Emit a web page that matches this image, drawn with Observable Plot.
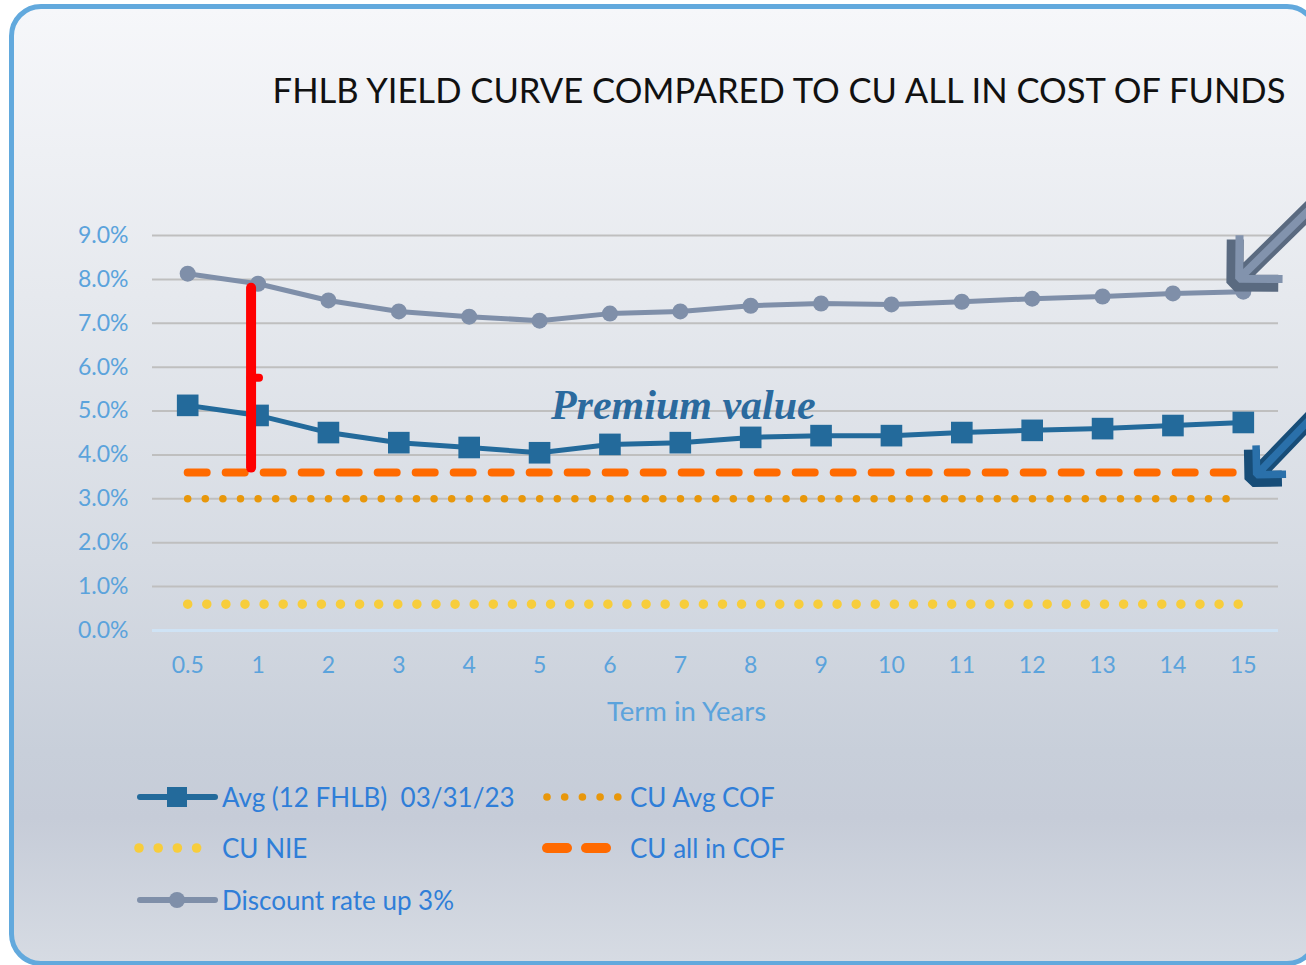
<!DOCTYPE html>
<html>
<head>
<meta charset="utf-8">
<script src="https://cdn.jsdelivr.net/npm/d3@7"></script>
<script src="https://cdn.jsdelivr.net/npm/@observablehq/plot@0.6"></script>
<style>
  html, body { margin: 0; padding: 0; background: #ffffff; }
  #page { position: relative; width: 1306px; height: 965px; overflow: hidden; font-family: Lato, "Open Sans", sans-serif; }
  #card { position: absolute; left: 9px; top: 4px; width: 1300px; height: 952px; border: 5px solid #62a9dd; border-radius: 32px;
          background: linear-gradient(to bottom, #f6f7fa 0%, #e6e9ee 30%, #d6dbe3 58%, #c8cfda 78%, #c6ccd8 85%, #d6dbe3 100%); }
  #title { position: absolute; left: 0; width: 1558px; top: 69px; text-align: center; font-size: 34.6px; color: #111; white-space: nowrap; }
  #chart { position: absolute; left: 0; top: 130px; }
  .leg { position: absolute; display: flex; align-items: center; font-size: 26px; color: #2f7ed8; white-space: pre; }
  .leg svg { display: block; }
</style>
</head>
<body>
<div id="page">
  <div id="card"></div>
  <div id="title">FHLB YIELD CURVE COMPARED TO CU ALL IN COST OF FUNDS</div>
  <div id="chart"></div>
  <div id="legend"></div>
</div>
<script>
// ---- data ----
const terms = ["0.5","1","2","3","4","5","6","7","8","9","10","11","12","13","14","15"];
const fhlbAvg = [5.13, 4.90, 4.51, 4.28, 4.17, 4.05, 4.24, 4.28, 4.40, 4.44, 4.44, 4.51, 4.56, 4.60, 4.67, 4.74];
const discountUp3 = [8.13, 7.90, 7.52, 7.27, 7.15, 7.06, 7.22, 7.27, 7.40, 7.45, 7.43, 7.49, 7.56, 7.61, 7.68, 7.72];
const cuAllInCof = 3.6;
const cuAvgCof = 3.0;
const cuNie = 0.6;
const yTicks = [0,1,2,3,4,5,6,7,8,9];
const seriesNames = ["Avg (12 FHLB)  03/31/23", "CU Avg COF", "CU NIE", "CU all in COF", "Discount rate up 3%"];

const C = {
  fhlb: "#236a9b", disc: "#7f8fa9", allIn: "#ff6a00", avgCof: "#e8970b", nie: "#f7cd3c",
  grid: "#bfbfbf", zero: "#cfe3f5", axis: "#5ba3dc", red: "#ff0000", premium: "#2b6a9e"
};

const idx = terms.map((_, i) => i);
const fhlbData = idx.map(i => ({x: i, y: fhlbAvg[i]}));
const discData = idx.map(i => ({x: i, y: discountUp3[i]}));
const flat = v => idx.map(i => ({x: i, y: v}));

const last = terms.length - 1;
const grayArrow = [{x1: 16.2, y1: 10.0, x2: last - 0.12, y2: discountUp3[last] + 0.2}];
const blueArrow = [{x1: 16.0, y1: 4.9, x2: last + 0.13, y2: cuAllInCof - 0.15}];

const chart = Plot.plot({
  width: 1306,
  height: 610,
  marginLeft: 152,
  marginRight: 28,
  marginTop: 105,
  marginBottom: 110,
  style: {fontFamily: "Lato, 'Open Sans', sans-serif", fontSize: "23px", color: C.axis, background: "transparent", overflow: "visible"},
  x: {domain: [-0.5, last + 0.5], axis: null},
  y: {domain: [0, 9], axis: null},
  marks: [
    Plot.ruleY(yTicks.filter(d => d > 0), {stroke: C.grid, strokeWidth: 2}),
    Plot.ruleY([0], {stroke: C.zero, strokeWidth: 3}),
    Plot.axisY({ticks: yTicks, tickFormat: d => d.toFixed(1) + "%", tickSize: 0, tickPadding: 24, label: null, fill: C.axis, fontSize: 23}),
    Plot.axisX({ticks: idx, tickFormat: i => terms[i], tickSize: 0, tickPadding: 26, label: null, fill: C.axis, fontSize: 23}),
    Plot.text(["Term in Years"], {frameAnchor: "bottom", dx: -29, dy: 90, fontSize: 27.5, fill: C.axis}),
    // flat series
    Plot.line(flat(cuNie), {x: "x", y: "y", stroke: C.nie, strokeWidth: 9.5, strokeDasharray: "0,19.1", strokeLinecap: "round"}),
    Plot.line(flat(cuAvgCof), {x: "x", y: "y", stroke: C.avgCof, strokeWidth: 7.5, strokeDasharray: "0,17.6", strokeLinecap: "round"}),
    Plot.line(flat(cuAllInCof), {x: "x", y: "y", stroke: C.allIn, strokeWidth: 8, strokeDasharray: "19,19", strokeLinecap: "round"}),
    // FHLB curve
    Plot.line(fhlbData, {x: "x", y: "y", stroke: C.fhlb, strokeWidth: 5}),
    Plot.dot(fhlbData, {x: "x", y: "y", symbol: "square", r: 12.2, fill: C.fhlb}),
    // Discount curve
    Plot.line(discData, {x: "x", y: "y", stroke: C.disc, strokeWidth: 5}),
    Plot.dot(discData, {x: "x", y: "y", r: 8, fill: C.disc}),
    // premium bracket (from discount curve at 1y down to all-in COF)
    Plot.ruleX([1], {y1: discountUp3[1] - 0.1, y2: cuAllInCof + 0.1, dx: -7, stroke: C.red, strokeWidth: 10, strokeLinecap: "round"}),
    Plot.ruleY([(discountUp3[1] + cuAllInCof) / 2 + 0.01], {x1: 1, x2: 1.12, dx: -7, stroke: C.red, strokeWidth: 8, strokeLinecap: "round"}),
    Plot.text(["Premium value"], {x: 7, y: 5.13, dx: 3, fontFamily: "'Liberation Serif', 'DejaVu Serif', serif", fontStyle: "italic", fontWeight: "bold", fontSize: 42, fill: C.premium}),
    // pointer arrows at the right edge
    Plot.arrow(grayArrow, {x1: "x1", y1: "y1", x2: "x2", y2: "y2", stroke: "#5a6a80", strokeWidth: 17, headLength: 9.5, headAngle: 90, strokeLinecap: "butt", strokeLinejoin: "miter"}),
    Plot.arrow(grayArrow, {x1: "x1", y1: "y1", x2: "x2", y2: "y2", stroke: "#8293ad", strokeWidth: 8, headLength: 10.5, headAngle: 90, insetEnd: 6, strokeLinecap: "butt", strokeLinejoin: "miter"}),
    Plot.arrow(blueArrow, {x1: "x1", y1: "y1", x2: "x2", y2: "y2", stroke: "#174d78", strokeWidth: 16, headLength: 9.5, headAngle: 90, strokeLinecap: "butt", strokeLinejoin: "miter"}),
    Plot.arrow(blueArrow, {x1: "x1", y1: "y1", x2: "x2", y2: "y2", stroke: "#2a70aa", strokeWidth: 7.5, headLength: 10.5, headAngle: 90, insetEnd: 6, strokeLinecap: "butt", strokeLinejoin: "miter"})
  ]
});
document.getElementById("chart").appendChild(chart);

// ---- legend (HTML, below the svg) ----
const legend = document.getElementById("legend");
function swatch(kind) {
  const ns = "http://www.w3.org/2000/svg";
  const s = document.createElementNS(ns, "svg");
  s.setAttribute("width", 86); s.setAttribute("height", 24);
  let html = "";
  if (kind === 0) html = `<line x1="4" y1="12" x2="79" y2="12" stroke="${C.fhlb}" stroke-width="6" stroke-linecap="round"/><rect x="31" y="2" width="20" height="20" fill="${C.fhlb}"/>`;
  if (kind === 4) html = `<line x1="4" y1="12" x2="79" y2="12" stroke="${C.disc}" stroke-width="6" stroke-linecap="round"/><circle cx="41" cy="12" r="8" fill="${C.disc}"/>`;
  if (kind === 1) html = [0,1,2,3,4].map(k => `<circle cx="${6 + k * 17.7}" cy="12" r="3.8" fill="${C.avgCof}"/>`).join("");
  if (kind === 2) html = [0,1,2,3].map(k => `<circle cx="${5 + k * 19.2}" cy="12" r="4.8" fill="${C.nie}"/>`).join("");
  if (kind === 3) html = `<line x1="6" y1="12" x2="26" y2="12" stroke="${C.allIn}" stroke-width="10" stroke-linecap="round"/><line x1="45" y1="12" x2="65" y2="12" stroke="${C.allIn}" stroke-width="10" stroke-linecap="round"/>`;
  s.innerHTML = html;
  return s;
}
const pos = [
  {left: 136, top: 797, gap: 0},
  {left: 541, top: 797, gap: 3},
  {left: 134, top: 848, gap: 2},
  {left: 541, top: 848, gap: 3},
  {left: 136, top: 900, gap: 0}
];
seriesNames.forEach((name, i) => {
  const d = document.createElement("div");
  d.className = "leg";
  d.style.left = pos[i].left + "px";
  d.style.top = (pos[i].top - 16) + "px";
  const sw = swatch(i);
  sw.style.marginRight = pos[i].gap + "px";
  d.appendChild(sw);
  const t = document.createElement("span");
  t.textContent = name;
  d.appendChild(t);
  legend.appendChild(d);
});
</script>
</body>
</html>
